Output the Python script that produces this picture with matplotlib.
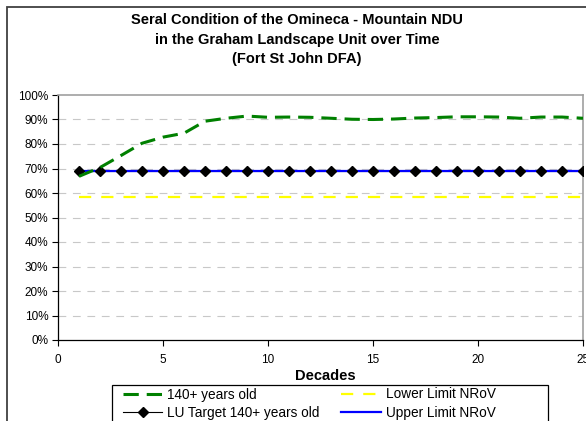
"""Seral condition chart, Omineca - Mountain NDU, Graham LU."""

import matplotlib

matplotlib.use("Agg")

import matplotlib.patches as mpatches
import matplotlib.pyplot as plt
from matplotlib.lines import Line2D

plt.rcParams["font.family"] = ["Liberation Sans", "DejaVu Sans"]

decades = list(range(1, 26))
old_140 = [66.8, 70.4, 75.3, 80.3, 82.8, 84.4, 89.3, 90.5, 91.4, 90.9,
           91.0, 90.9, 90.5, 90.1, 90.0, 90.2, 90.6, 90.8, 91.1, 91.1,
           91.0, 90.5, 91.0, 91.0, 90.5]
lu_target = [69.0] * 25
lower_nrov = [58.2] * 25
upper_nrov = [69.0] * 25

title = ("Seral Condition of the Omineca - Mountain NDU\n"
         "in the Graham Landscape Unit over Time\n(Fort St John DFA)")
x_ticks = [0, 5, 10, 15, 20, 25]
y_ticks = list(range(0, 101, 10))

W, H = 586, 421
fig = plt.figure(figsize=(W / 100, H / 100), dpi=100)
fig.patch.set_facecolor("white")

# chart-area border (only left/top visible, rest is cropped)
fig.patches.append(mpatches.Rectangle(
    (7 / W, -0.2), 1.2, 1 - 7 / H + 0.2, transform=fig.transFigure,
    fill=False, edgecolor="#404040", linewidth=1.3))

ax = fig.add_axes([58 / W, 1 - 340 / H, (583 - 58) / W, (340 - 95) / H])

# dashed horizontal grid
for v in y_ticks[1:-1]:
    ax.axhline(v, color="#c8c8c8", linewidth=0.8, dashes=(7, 6), zorder=0)

ax.plot(decades, lower_nrov, color="#ffff00", linewidth=1.6, dashes=(5.5, 4.5), zorder=2)
ax.plot(decades, lu_target, color="black", linewidth=0.8, zorder=2)
ax.plot(decades, upper_nrov, color="#0000ff", linewidth=1.6, zorder=3)
ax.plot(decades, lu_target, linestyle="none", marker="D", markersize=5.5,
        color="black", zorder=4)
ax.plot(decades, old_140, color="#008000", linewidth=2.2, dashes=(5, 2.6), zorder=5)

ax.set_xlim(0, 25)
ax.set_ylim(0, 100)
ax.set_xticks(x_ticks)
ax.set_yticks(y_ticks)
ax.set_yticklabels([f"{v}%" for v in y_ticks])
ax.tick_params(labelsize=8.5, length=4, width=0.8, direction="out", pad=3)
ax.tick_params(axis="x", pad=6)

for side in ("left", "bottom"):
    ax.spines[side].set_color("black")
    ax.spines[side].set_linewidth(0.9)
for side in ("top", "right"):
    ax.spines[side].set_color("#a0a0a0")
    ax.spines[side].set_linewidth(1.2)

ax.set_xlabel("Decades", fontsize=10.5, fontweight="bold")
ax.xaxis.set_label_coords(0.51, -0.12)

fig.text(297 / W, 1 - 13.5 / H, title, ha="center", va="top",
         fontsize=10.5, fontweight="bold", linespacing=1.5)

handles = [
    Line2D([], [], color="#008000", linewidth=2.2, dashes=(5, 2.6)),
    Line2D([], [], color="black", linewidth=0.8, marker="D", markersize=5),
    Line2D([], [], color="#ffff00", linewidth=1.6, dashes=(5.5, 4.5)),
    Line2D([], [], color="#0000ff", linewidth=1.6),
]
labels = ["140+ years old", "LU Target 140+ years old",
          "Lower Limit NRoV", "Upper Limit NRoV"]
leg = fig.legend(handles, labels, ncol=2, loc="upper left",
                 bbox_to_anchor=(123 / W, 1 - 387.5 / H),
                 fontsize=9.8, frameon=False, handlelength=2.9,
                 handletextpad=0.35, borderpad=0, labelspacing=0.32,
                 borderaxespad=0, columnspacing=1.6)

# legend box: fixed width, bottom cropped by the figure edge
fig.patches.append(mpatches.Rectangle(
    (112 / W, -0.1), (548 - 112) / W, 0.1 + 1 - 385 / H,
    transform=fig.transFigure, fill=False, edgecolor="black", linewidth=0.9))

fig.savefig("out.png", dpi=100, facecolor="white")
plt.close(fig)
